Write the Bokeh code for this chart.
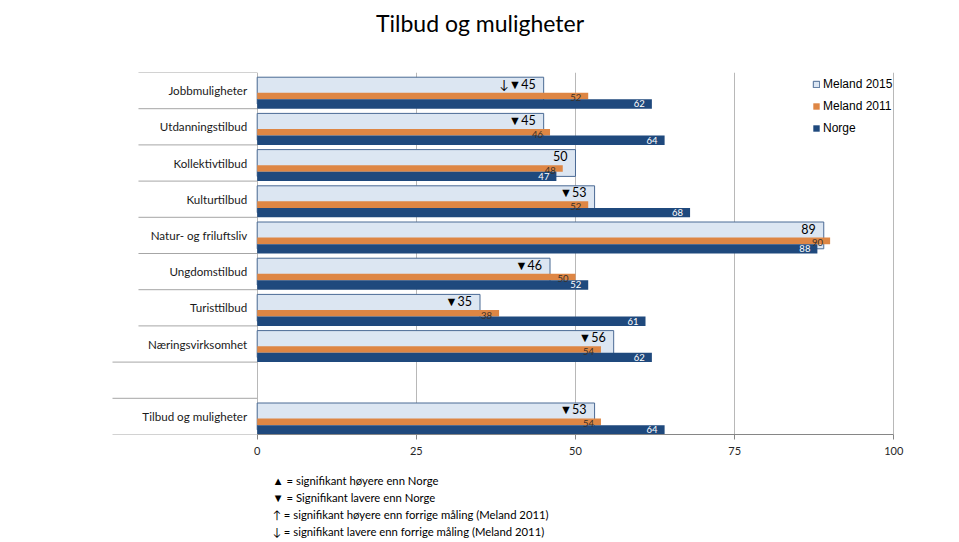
from bokeh.plotting import figure
from bokeh.models import FactorRange, ColumnDataSource, Legend, LegendItem, Title, FixedTicker
from bokeh.transform import dodge
from bokeh.core.properties import value
from bokeh.embed import file_html
from bokeh.resources import INLINE

# ---- data ----
categories = ["Jobbmuligheter", "Utdanningstilbud", "Kollektivtilbud", "Kulturtilbud",
              "Natur- og friluftsliv", "Ungdomstilbud", "Turisttilbud", "Næringsvirksomhet",
              "Tilbud og muligheter"]
meland_2015 = [45, 45, 50, 53, 89, 46, 35, 56, 53]
meland_2011 = [52, 46, 48, 52, 90, 50, 38, 54, 54]
norge = [62, 64, 47, 68, 88, 52, 61, 62, 64]
sig_marks = ["\u2193\u25BC", "\u25BC", "", "\u25BC", "", "\u25BC", "\u25BC", "\u25BC", "\u25BC"]
x_ticks = [0, 25, 50, 75, 100]
series_names = ["Meland 2015", "Meland 2011", "Norge"]
chart_title = "Tilbud og muligheter"
footnotes = [
    "\u25B2 = signifikant høyere enn Norge",
    "\u25BC = Signifikant lavere enn Norge",
    "\u2191\uFE0E = signifikant høyere enn forrige måling (Meland 2011)",
    "\u2193\uFE0E = signifikant lavere enn forrige måling (Meland 2011)",
]

# ---- styling ----
C15_FILL = "#DCE6F2"
C15_LINE = "#4A6A94"
C11 = "#DE8644"
CNO = "#1F497D"
FONT = "Lato"

# rows from top to bottom, with an empty row before the total
factors_top_down = categories[:8] + [" "] + categories[8:]
y_range = FactorRange(factors=list(reversed(factors_top_down)), range_padding=0)

W, H = 959, 542
p = figure(width=W, height=H, y_range=y_range, x_range=(-32.47, 102.47),
           output_backend="svg", toolbar_location=None, y_axis_location=None,
           min_border_left=50, min_border_right=50, min_border_top=72, min_border_bottom=108)
p.outline_line_color = None
p.background_fill_color = "white"

src = ColumnDataSource(dict(
    cat=categories, m15=meland_2015, m11=meland_2011, no=norge,
    lab15=[m + str(v) for m, v in zip(sig_marks, meland_2015)],
    lab11=[str(v) for v in meland_2011],
    labno=[str(v) for v in norge],
))

r15 = p.hbar(y=dodge("cat", 0.0, range=p.y_range), left=0, right="m15", height=0.74,
             fill_color=C15_FILL, line_color=C15_LINE, line_width=1, source=src)
r11 = p.hbar(y=dodge("cat", -0.151, range=p.y_range), left=0, right="m11", height=0.182,
             fill_color=C11, line_color=None, source=src)
rno = p.hbar(y=dodge("cat", -0.371, range=p.y_range), left=0, right="no", height=0.258,
             fill_color=CNO, line_color=None, source=src)

p.text(x="m15", y=dodge("cat", 0.18, range=p.y_range), text="lab15", source=src,
       x_offset=-8, text_align="right", text_baseline="middle",
       text_font=value(FONT), text_font_size="12.5px", text_color="#000000")
p.text(x="m11", y=dodge("cat", -0.20, range=p.y_range), text="lab11", source=src,
       x_offset=-7, text_align="right", text_baseline="middle",
       text_font=value(FONT), text_font_size="9.5px", text_color="#3a3027")
p.text(x="no", y=dodge("cat", -0.37, range=p.y_range), text="labno", source=src,
       x_offset=-7, text_align="right", text_baseline="middle",
       text_font=value(FONT), text_font_size="9.5px", text_color="#ffffff")

# category labels
p.text(x=0, y="cat", text="cat", source=src, x_offset=-10, text_align="right",
       text_baseline="middle", text_font=value(FONT), text_font_size="11.6px",
       text_color="#1a1a1a")

# category separator lines
n = len(factors_top_down)
bounds_upper = [n - k for k in range(0, 8)]
bounds_lower = [n - k for k in range(8, n + 1)]
p.segment(x0=[-18.65] * len(bounds_upper), x1=[0] * len(bounds_upper),
          y0=bounds_upper, y1=bounds_upper, line_color="#A6A6A6", line_width=1)
p.segment(x0=[-22.73] * len(bounds_lower), x1=[0] * len(bounds_lower),
          y0=bounds_lower, y1=bounds_lower, line_color="#A6A6A6", line_width=1)

# axes and grid
ax = p.xaxis[0]
ax.ticker = FixedTicker(ticks=x_ticks)
ax.bounds = (0, 100)
ax.axis_line_color = "#868686"
ax.major_tick_line_color = "#868686"
ax.major_tick_out = 5
ax.major_tick_in = 0
ax.minor_tick_out = 0
ax.minor_tick_in = 0
ax.major_label_text_font = FONT
ax.major_label_text_font_size = "11px"
ax.major_label_text_color = "#262626"
ax.major_label_standoff = 7
# invisible spacer between the axis and the footnotes
ax.axis_label = " "
ax.axis_label_text_font_size = "1px"
ax.axis_label_standoff = 9
p.xgrid.ticker = FixedTicker(ticks=x_ticks)
p.xgrid.grid_line_color = "#B8B8B8"
p.ygrid.visible = False

# title: empty default title, a spacer, then the real title further up
p.title.text = ""
p.add_layout(Title(text=" ", text_font_size="1px", standoff=32), "above")
p.add_layout(Title(text=chart_title, align="center", standoff=2, text_font=FONT,
                   text_font_size="23px", text_font_style="normal",
                   text_color="#000000"), "above")

# legend
legend = Legend(items=[LegendItem(label=series_names[0], renderers=[r15]),
                       LegendItem(label=series_names[1], renderers=[r11]),
                       LegendItem(label=series_names[2], renderers=[rno])],
                location=(762, 296), orientation="vertical", padding=0, margin=0,
                spacing=2, glyph_width=8, glyph_height=8, label_height=20,
                label_standoff=3, label_text_font="Liberation Sans",
                label_text_font_size="12px", label_text_color="#000000",
                border_line_color=None, background_fill_alpha=0)
p.add_layout(legend)

# footnotes (stacked below the x axis)
for t in footnotes:
    p.add_layout(Title(text=t, align="left", offset=222, standoff=2,
                       text_font=FONT, text_font_size="11.3px", text_font_style="normal",
                       text_color="#000000"), "below")

open("out.html", "w").write(file_html(p, INLINE))
